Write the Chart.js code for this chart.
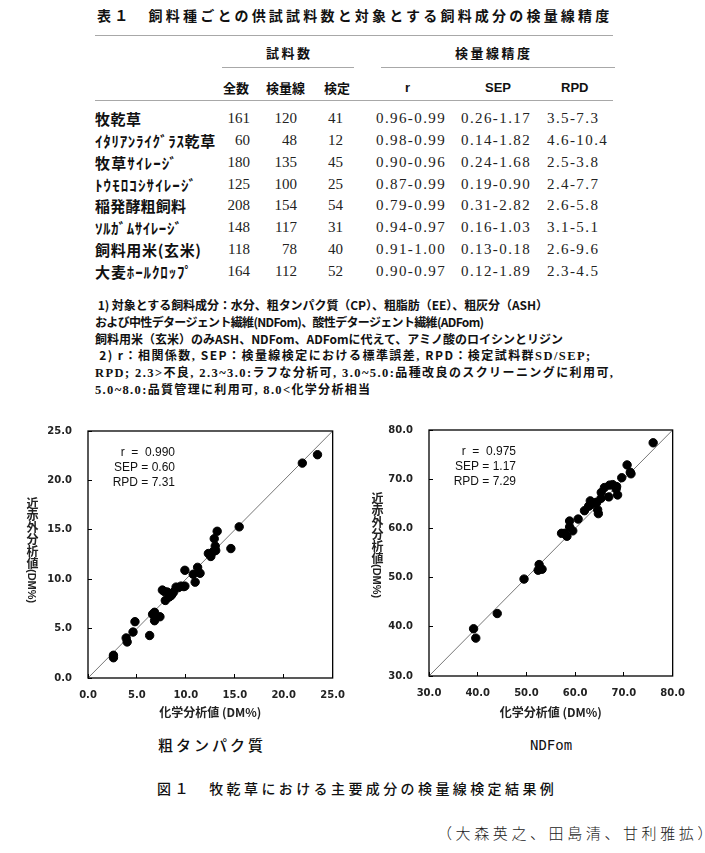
<!DOCTYPE html>
<html><head><meta charset="utf-8">
<script src="https://cdn.jsdelivr.net/npm/chart.js@4.4.1/dist/chart.umd.min.js"></script>
<style>
body{margin:0;background:#fff;width:705px;height:853px;position:relative;overflow:hidden;font-family:"Noto Sans CJK JP",sans-serif;color:#111}
.a{position:absolute;white-space:nowrap;line-height:1}
.rule{position:absolute;height:0;border-top:1.5px solid #a8a8a8}
.num{font-family:"Liberation Serif",serif;font-size:15px;color:#222}
.rng{font-family:"Liberation Serif",serif;font-size:15px;letter-spacing:1.4px;color:#222}
.lbl{font-size:15px;font-weight:700;left:95px}
.hd{font-size:13px;font-weight:700}
.lat{font-family:"Liberation Sans",sans-serif;font-size:13px;font-weight:700}
.fn{font-size:12px;font-weight:700;left:95px;color:#111}
.sf{font-family:"Liberation Serif",serif;font-weight:700;font-size:12.5px}
.vt{position:absolute;writing-mode:vertical-rl;text-orientation:mixed;font-size:12px;font-weight:700;line-height:1;white-space:nowrap;color:#222}
.vt span{font-family:"Liberation Sans",sans-serif;font-size:11px}
canvas{position:absolute}
</style></head>
<body>
<div id="page"></div>
<canvas id="cp" width="360" height="330" style="left:0;top:405px"></canvas>
<canvas id="ndf" width="345" height="331" style="left:355px;top:404px"></canvas>
<div class="vt" style="left:26px;top:497px">近赤外分析値<span>(DM%)</span></div>
<div class="vt" style="left:371px;top:492px">近赤外分析値<span>(DM%)</span></div>
<script>
// ---- table data ----
const feedTypes = ["牧乾草","ｲﾀﾘｱﾝﾗｲｸﾞﾗｽ乾草","牧草ｻｲﾚｰｼﾞ","ﾄｳﾓﾛｺｼｻｲﾚｰｼﾞ","稲発酵粗飼料","ｿﾙｶﾞﾑｻｲﾚｰｼﾞ","飼料用米(玄米)","大麦ﾎｰﾙｸﾛｯﾌﾟ"];
const totalN = [161,60,180,125,208,148,118,164];
const calibN = [120,48,135,100,154,117,78,112];
const validN = [41,12,45,25,54,31,40,52];
const rRange = ["0.96-0.99","0.98-0.99","0.90-0.96","0.87-0.99","0.79-0.99","0.94-0.97","0.91-1.00","0.90-0.97"];
const sepRange = ["0.26-1.17","0.14-1.82","0.24-1.68","0.19-0.90","0.31-2.82","0.16-1.03","0.13-0.18","0.12-1.89"];
const rpdRange = ["3.5-7.3","4.6-10.4","2.5-3.8","2.4-7.7","2.6-5.8","3.1-5.1","2.6-9.6","2.3-4.5"];

// ---- scatter data ----
const cpChem = [2.6,2.6,3.9,4.0,4.6,4.8,6.3,6.6,6.8,6.8,7.35,7.6,7.8,7.9,8.1,8.3,8.5,8.6,8.75,9.0,9.25,9.5,9.8,9.9,9.9,10.75,10.95,11.2,11.45,12.3,12.55,12.75,12.9,13.0,13.05,13.2,14.6,15.45,21.9,23.45];
const cpNir  = [2.3,2.05,4.05,3.65,4.65,5.7,4.3,6.45,6.65,5.8,6.2,8.9,8.75,7.85,8.7,8.2,8.35,8.5,8.7,9.2,9.15,9.3,9.25,10.9,9.3,10.5,9.7,11.2,10.6,12.6,12.3,12.75,14.1,13.35,12.9,14.85,13.1,15.3,21.75,22.6];
const ndfChem = [39.15,39.6,44.0,49.5,52.6,52.4,53.2,57.2,57.8,58.3,58.85,58.85,59.5,60.6,61.9,62.75,63.0,63.1,63.5,64.3,64.4,64.6,64.75,65.3,65.35,66.0,66.9,67.05,67.7,68.4,68.5,68.7,69.55,70.65,71.3,71.45,76.0];
const ndfNir  = [39.6,37.7,42.7,49.7,52.65,51.5,51.7,59.0,59.0,58.4,61.5,60.3,59.5,61.9,63.6,64.5,64.7,65.6,65.1,65.3,65.2,63.8,63.0,66.1,67.3,68.3,66.4,68.8,68.9,68.0,68.5,66.8,70.3,72.9,71.4,71.1,77.4];
const cpRange = [0,25];
const ndfRange = [30,80];
const cpStep = 5, ndfStep = 10;
const cpStats = ["r  =  0.990","SEP = 0.60","RPD = 7.31"];
const ndfStats = ["r  =  0.975","SEP = 1.17","RPD = 7.29"];
const xTitle = "化学分析値 (DM%)";

// ---- layout constants (right edges of text measured on the reference) ----
const labelRightPx = [141,216,178,197,186,183,201,193];
const noteRightPx = [548,484,563,590,613,370];

// ---- build page text ----
const page = document.getElementById('page');
function put(html, cls, style){const d=document.createElement('div');d.className='a '+(cls||'');d.innerHTML=html;d.setAttribute('style',style);page.appendChild(d);return d;}
function rule(x1,x2,y){const d=document.createElement('div');d.className='rule';d.setAttribute('style',`left:${x1}px;width:${x2-x1}px;top:${y}px`);page.appendChild(d);}
function fitRight(el, right){
  const r = el.getBoundingClientRect();
  const n = Array.from(el.textContent).length;
  if(n>1){ el.style.letterSpacing = Math.max(-0.8,(right - r.right)/(n-1)).toFixed(2)+'px'; }
}

put("表１　飼料種ごとの供試試料数と対象とする飼料成分の検量線精度","","left:97px;top:8px;font-size:14px;font-weight:700;letter-spacing:3.2px;color:#111");
rule(95,613,35);
put("試料数","hd","left:266px;top:46px;letter-spacing:2.5px");
put("検量線精度","hd","left:455px;top:46px;letter-spacing:2.5px");
rule(222,354,67);rule(381,615,67);
put("全数","hd","left:223px;top:81px");
put("検量線","hd","left:266px;top:81px");
put("検定","hd","left:324px;top:81px");
put("r","lat","left:405px;top:81px");
put("SEP","lat","left:485px;top:81px");
put("RPD","lat","left:561px;top:81px");
rule(95,613,100);
feedTypes.forEach((f,i)=>{
  const cy = 118.3 + 21.9*i, t = cy-7.5;
  const el = put(f,"lbl",`top:${t}px`);
  fitRight(el, labelRightPx[i]);
  put(totalN[i],"num",`right:${705-250}px;top:${t}px`);
  put(calibN[i],"num",`right:${705-297}px;top:${t}px`);
  put(validN[i],"num",`right:${705-343}px;top:${t}px`);
  put(rRange[i],"rng",`left:376px;top:${t}px`);
  put(sepRange[i],"rng",`left:461px;top:${t}px`);
  put(rpdRange[i],"rng",`left:547px;top:${t}px`);
});
const fnLines = [
 "&nbsp;1) 対象とする飼料成分：水分、粗タンパク質（CP）、粗脂肪（EE）、粗灰分（ASH）",
 "および中性デタージェント繊維(NDFom)、酸性デタージェント繊維(ADFom)",
 "飼料用米（玄米）のみASH、NDFom、ADFomに代えて、アミノ酸のロイシンとリジン",
 "&nbsp;2) r：相関係数<span class='sf'>, </span>SEP：検量線検定における標準誤差<span class='sf'>, </span>RPD：検定試料群<span class='sf'>SD/SEP;</span>",
 "<span class='sf'>RPD; 2.3&gt;</span>不良<span class='sf'>, 2.3~3.0:</span>ラフな分析可<span class='sf'>, 3.0~5.0:</span>品種改良のスクリーニングに利用可<span class='sf'>,</span>",
 "<span class='sf'>5.0~8.0:</span>品質管理に利用可<span class='sf'>, 8.0&lt;</span>化学分析相当"
];
fnLines.forEach((l,i)=>{ const el = put(l,"fn",`top:${305+16.8*i-6}px`); fitRight(el, noteRightPx[i]); });

put("粗タンパク質","",`left:158px;top:737px;font-size:15px;letter-spacing:3px;font-weight:500;color:#111`);
put("NDFom","",`left:530px;top:738px;font-family:'DejaVu Sans Mono',monospace;font-size:14px;color:#111`);
put("図１　牧乾草における主要成分の検量線検定結果例","",`left:157px;top:781px;font-size:14px;letter-spacing:3.4px;font-weight:500;color:#111`);
put("（大森英之、田島清、甘利雅拡）","",`left:437px;top:825px;font-size:15px;letter-spacing:3.6px;font-weight:300;color:#222`);

// ---- charts ----
const boxPlugin = {
  id:'box',
  afterDraw(chart){
    const {ctx, chartArea:a} = chart;
    ctx.save();ctx.strokeStyle='#000';ctx.lineWidth=1.3;
    ctx.strokeRect(a.left,a.top,a.right-a.left,a.bottom-a.top);
    ctx.restore();
  }
};
const statsPlugin = {
  id:'stats',
  afterDatasetsDraw(chart, args, opts){
    const {ctx, chartArea:a} = chart;
    ctx.save();
    ctx.font = '12px "Liberation Sans", Arial, sans-serif';
    ctx.fillStyle='#111';ctx.textAlign='right';ctx.textBaseline='middle';
    opts.lines.forEach((t,i)=>ctx.fillText(t, a.left+opts.dx, a.top+22+15*i));
    ctx.restore();
  }
};
function makeChart(id, chem, nir, range, step, stats, yWidth, xHeight, padRight){
  const tickFont = {family:'"DejaVu Sans", sans-serif', size:10, weight:'bold'};
  const axis = (extra)=>Object.assign({
    type:'linear', min:range[0], max:range[1],
    border:{display:false},
    grid:{drawOnChartArea:false, drawTicks:true, tickLength:-4, color:'#000', tickColor:'#000', lineWidth:1},
    ticks:{stepSize:step, font:tickFont, color:'#222', callback:v=>Number(v).toFixed(1), padding:15, maxRotation:0, autoSkip:false}
  }, extra);
  return new Chart(document.getElementById(id), {
    type:'scatter',
    data:{datasets:[
      {type:'scatter', data:chem.map((x,i)=>({x, y:nir[i]})), backgroundColor:'#000', borderColor:'#000', pointRadius:4.2, pointHoverRadius:4.2, order:0},
      {type:'line', data:range.map(v=>({x:v,y:v})), borderColor:'#777', borderWidth:1, pointRadius:0, fill:false, order:1}
    ]},
    options:{
      responsive:false, animation:false, devicePixelRatio:1,
      layout:{padding:{left:0,right:padRight,top:0,bottom:0}},
      plugins:{legend:{display:false}, tooltip:{enabled:false}, stats:{lines:stats, dx:87}},
      scales:{
        x: axis({position:'bottom',
          title:{display:true, text:xTitle, font:{family:'"Noto Sans CJK JP", sans-serif', size:12, weight:'bold'}, color:'#222', padding:{top:0,bottom:15}},
          afterFit(s){s.height = xHeight;}}),
        y: axis({position:'left', ticks:{stepSize:step, font:tickFont, color:'#222', callback:v=>Number(v).toFixed(1), padding:20},
          afterFit(s){s.width = yWidth;}})
      }
    },
    plugins:[boxPlugin, statsPlugin]
  });
}
makeChart('cp', cpChem, cpNir, cpRange, cpStep, cpStats, 88, 57, 19);
makeChart('ndf', ndfChem, ndfNir, ndfRange, ndfStep, ndfStats, 74, 59, 27);
</script>
</body></html>
